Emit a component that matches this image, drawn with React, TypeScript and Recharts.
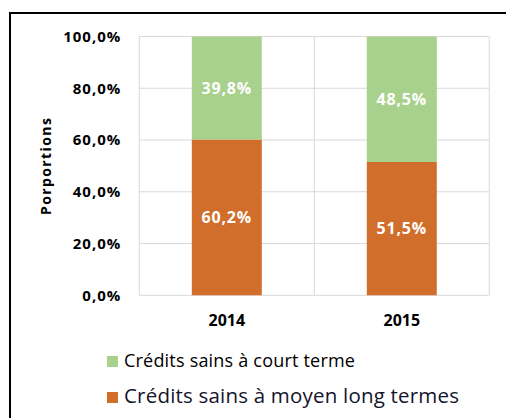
import React from 'react';
import { BarChart, Bar, XAxis, YAxis, CartesianGrid, LabelList } from 'recharts';

const years = ['2014', '2015'];
const courtTerme = [39.8, 48.5];
const moyenLongTermes = [60.2, 51.5];
const yTicks = [0, 20, 40, 60, 80, 100];
const seriesNames = ['Crédits sains à court terme', 'Crédits sains à moyen long termes'];
const seriesColors = ['#A9D18E', '#D26E2B'];

const legendStyles = [
  { squareTop: 356, textTop: 348.4, fontSize: 18, letterSpacing: 0.2, color: '#000' },
  { squareTop: 392, textTop: 381.1, fontSize: 20.5, letterSpacing: 0.2, color: '#14142a' },
];

const data = years.map((y, i) => ({ year: y, court: courtTerme[i], long: moyenLongTermes[i] }));

const fmt = (v: number) => v.toFixed(1).replace('.', ',') + '%';
const FONT = '"Open Sans", "Noto Sans", sans-serif';

export default function App() {
  return (
    <div style={{ position: 'fixed', left: 0, top: 0, width: 506, height: 418, overflow: 'hidden', background: '#fff', fontFamily: FONT }}>
      <div style={{ position: 'absolute', left: 9, top: 12, width: 700, height: 700, borderLeft: '2px solid #000', borderTop: '2px solid #000', boxSizing: 'border-box' }} />
      <div style={{ position: 'absolute', left: 0, top: 0 }}>
        <BarChart width={506} height={418} data={data} margin={{ top: 36.5, right: 16.7, bottom: 0, left: 0 }} barCategoryGap="30%">
          <CartesianGrid
            stroke="#D9D9D9"
            strokeWidth={1}
            verticalCoordinatesGenerator={({ offset }: any) => [offset.left, offset.left + offset.width / 2, offset.left + offset.width]}
          />
          <XAxis
            dataKey="year"
            height={122.7}
            axisLine={false}
            tickLine={false}
            tickSize={0}
            tickMargin={19}
            tick={{ fill: '#000', fontSize: 16, fontWeight: 'bold', fontFamily: FONT }}
          />
          <YAxis
            width={139.3}
            domain={[0, 100]}
            ticks={yTicks}
            axisLine={false}
            tickLine={false}
            tickSize={0}
            tickMargin={18}
            tickFormatter={(v: number) => fmt(v)}
            tick={{ fill: '#000', fontSize: 15, fontWeight: 'bold', fontFamily: FONT, letterSpacing: 1 } as any}
            label={{ value: 'Porportions', angle: -90, position: 'center', dx: -23.5, style: { fill: '#000', fontSize: 14, fontWeight: 'bold', fontFamily: FONT, letterSpacing: 1.4 } }}
          />
          <Bar dataKey="long" stackId="a" fill={seriesColors[1]} isAnimationActive={false}>
            <LabelList dataKey="long" position="center" formatter={(v: any) => fmt(Number(v))} fill="#fff" style={{ fontSize: 16, fontWeight: 'bold', fontFamily: FONT, letterSpacing: 0.8 }} />
          </Bar>
          <Bar dataKey="court" stackId="a" fill={seriesColors[0]} isAnimationActive={false}>
            <LabelList dataKey="court" position="center" formatter={(v: any) => fmt(Number(v))} fill="#fff" style={{ fontSize: 16, fontWeight: 'bold', fontFamily: FONT, letterSpacing: 0.8 }} />
          </Bar>
        </BarChart>
      </div>
      {seriesNames.map((name, i) => (
        <React.Fragment key={name}>
          <span style={{ position: 'absolute', left: 107, top: legendStyles[i].squareTop, width: 11, height: 11, background: seriesColors[i] }} />
          <span style={{ position: 'absolute', left: 124, top: legendStyles[i].textTop, fontSize: legendStyles[i].fontSize, lineHeight: 'normal', letterSpacing: legendStyles[i].letterSpacing, color: legendStyles[i].color, whiteSpace: 'nowrap' }}>{name}</span>
        </React.Fragment>
      ))}
    </div>
  );
}
